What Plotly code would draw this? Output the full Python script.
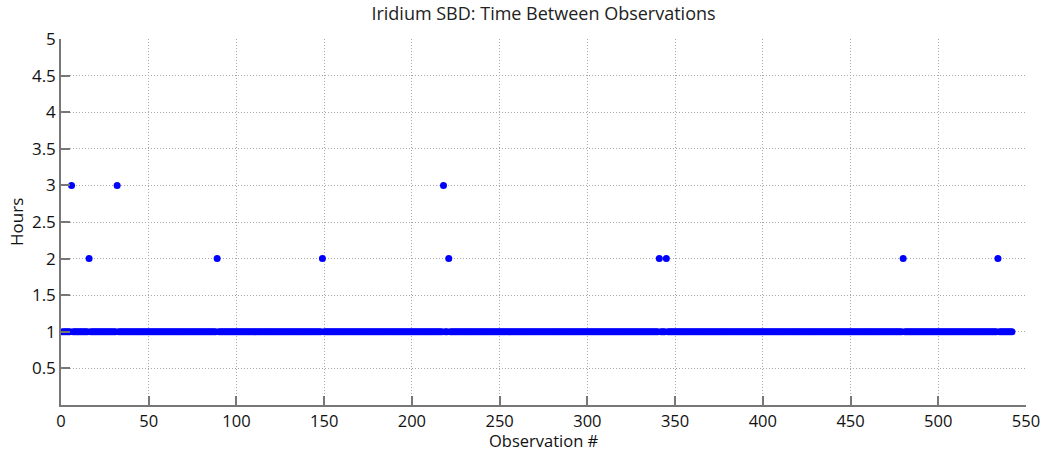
import plotly.graph_objects as go

# Data
n_obs = 542
base_hours = 1
outlier_obs = [6, 16, 32, 89, 149, 218, 221, 341, 345, 480, 534]
outlier_hours = [3, 2, 3, 2, 2, 3, 2, 2, 2, 2, 2]

x_ticks = [0, 50, 100, 150, 200, 250, 300, 350, 400, 450, 500, 550]
y_ticks = [0.5, 1, 1.5, 2, 2.5, 3, 3.5, 4, 4.5, 5]
y_tick_labels = ["0.5", "1", "1.5", "2", "2.5", "3", "3.5", "4", "4.5", "5"]

obs = list(range(1, n_obs + 1))
hours = [base_hours] * n_obs
for o, h in zip(outlier_obs, outlier_hours):
    hours[o - 1] = h

fig = go.Figure()
fig.add_trace(go.Scatter(
    x=obs, y=hours, mode="markers",
    marker=dict(color="rgb(0,0,255)", size=7, line=dict(width=0)),
    showlegend=False,
))

W, H = 1045, 451
L, R, T, B = 61, 19, 39, 46
PW, PH = W - L - R, H - T - B
font = "Open Sans, Liberation Sans, sans-serif"
fig.update_layout(
    width=W, height=H,
    margin=dict(l=L, r=R, t=T, b=B),
    paper_bgcolor="white", plot_bgcolor="white",
    title=dict(text="Iridium SBD: Time Between Observations",
               x=(L + PW / 2) / W, xanchor="center", y=1 - 14 / H, yanchor="middle",
               font=dict(family=font, size=18, color="#222")),
    font=dict(family=font, color="#111"),
    annotations=[
        dict(text="Observation #", xref="paper", yref="paper",
             x=0.5, y=-(440 - (T + PH)) / PH, xanchor="center", yanchor="middle",
             showarrow=False, font=dict(size=16.5, color="#111")),
        dict(text="Hours", xref="paper", yref="paper", textangle=-90,
             x=-(L - 16) / PW, y=0.5, xanchor="center", yanchor="middle",
             showarrow=False, font=dict(size=17, color="#111")),
    ],
)
fig.update_xaxes(
    range=[0, 550], tickvals=x_ticks, automargin=False,
    showgrid=True, gridcolor="#a8a8a8", griddash="1px,2px", gridwidth=1,
    showline=True, linecolor="#777777", linewidth=1.5,
    ticks="inside", ticklen=9, tickcolor="#777777", tickwidth=1.5,
    tickfont=dict(size=16.5), zeroline=False,
)
fig.update_yaxes(
    range=[0, 5], tickvals=y_ticks, ticktext=y_tick_labels, automargin=False,
    showgrid=True, gridcolor="#a8a8a8", griddash="1px,2px", gridwidth=1,
    showline=True, linecolor="#777777", linewidth=1.5,
    ticks="inside", ticklen=9, tickcolor="#777777", tickwidth=1.5,
    tickfont=dict(size=17), zeroline=False,
)
fig.write_html(
    "out.html",
    config={"displayModeBar": False},
    post_script="document.body.style.margin='0';document.body.style.overflow='hidden';",
)
